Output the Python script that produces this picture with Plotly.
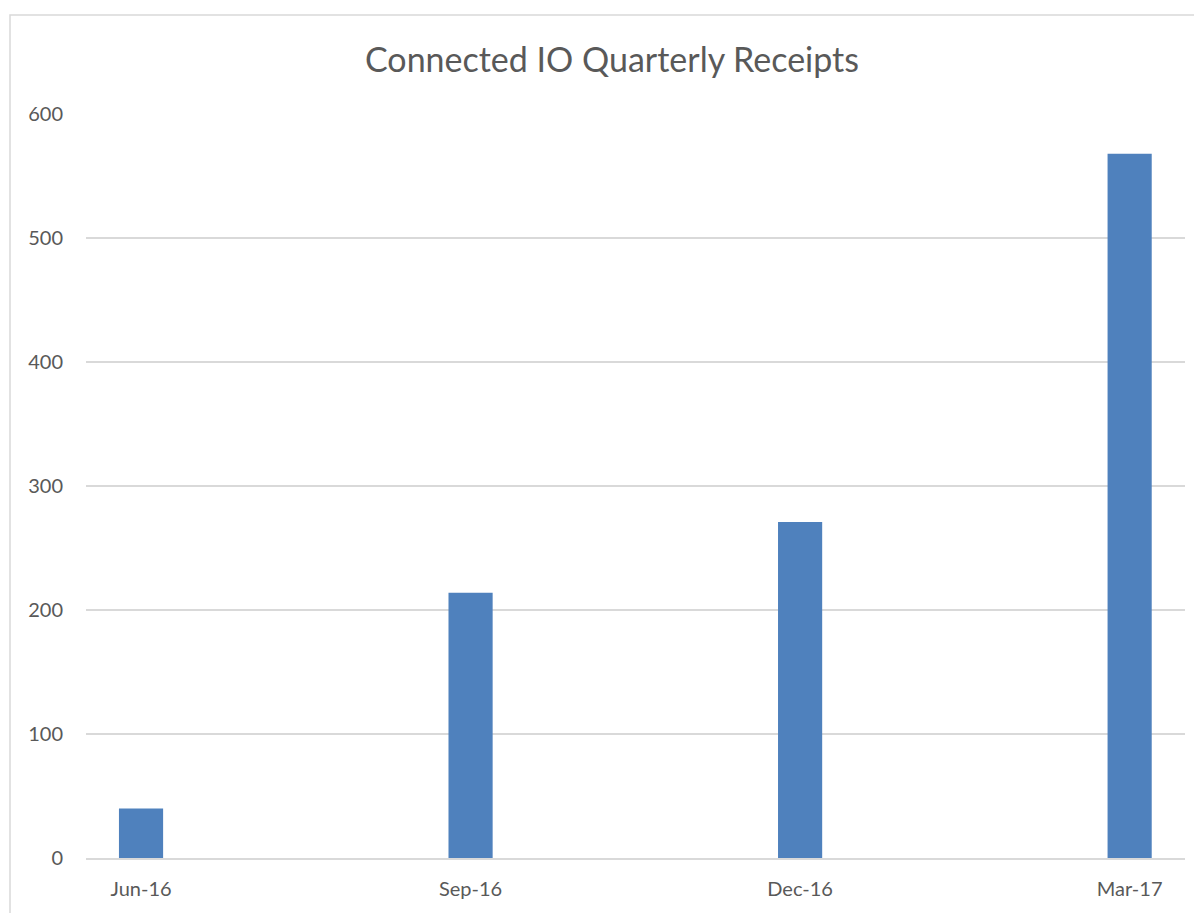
import plotly.graph_objects as go

categories = ["Jun-16", "Sep-16", "Dec-16", "Mar-17"]
receipts = [40, 214, 271, 568]
y_ticks = [0, 100, 200, 300, 400, 500, 600]

# page body has an 8px margin; compensate
OFF = 8
W, H = 1202 - OFF, 913 - OFF
L, R, T, B = 86 - OFF, 17, 114 - OFF, 55
pw, ph = W - L - R, H - T - B

fig = go.Figure()
fig.add_trace(go.Bar(
    x=categories, y=receipts, width=0.134,
    marker=dict(color="#4f81bd", line=dict(width=0)),
))

fig.update_layout(
    width=W, height=H,
    margin=dict(l=L, r=R, t=T, b=B),
    paper_bgcolor="white", plot_bgcolor="white",
    font=dict(family="Lato, 'Open Sans', sans-serif", color="#595959", size=20),
    title=dict(text="Connected IO Quarterly Receipts", x=(612 - OFF) / W, xanchor="center",
               y=1 - (60 - OFF) / H, yanchor="middle",
               font=dict(size=34, color="#595959")),
    showlegend=False,
    xaxis=dict(type="category", range=[-0.167, 3.168], showgrid=False,
               showline=True, linecolor="#d9d9d9", linewidth=1.5,
               ticks="", ticklabelstandoff=12, tickfont=dict(size=20)),
    yaxis=dict(range=[0, 600], tickvals=y_ticks, showgrid=True,
               gridcolor="#d9d9d9", gridwidth=1.5, zeroline=False,
               showline=False, ticks="", ticklabelstandoff=22,
               tickfont=dict(size=20)),
    shapes=[dict(type="rect", xref="paper", yref="paper",
                 x0=(10 - 86) / pw, x1=1.2, y0=-0.3, y1=1 + (114 - 15) / ph,
                 line=dict(color="#d9d9d9", width=1.5), layer="below")],
)

fig.write_html("out.html")
